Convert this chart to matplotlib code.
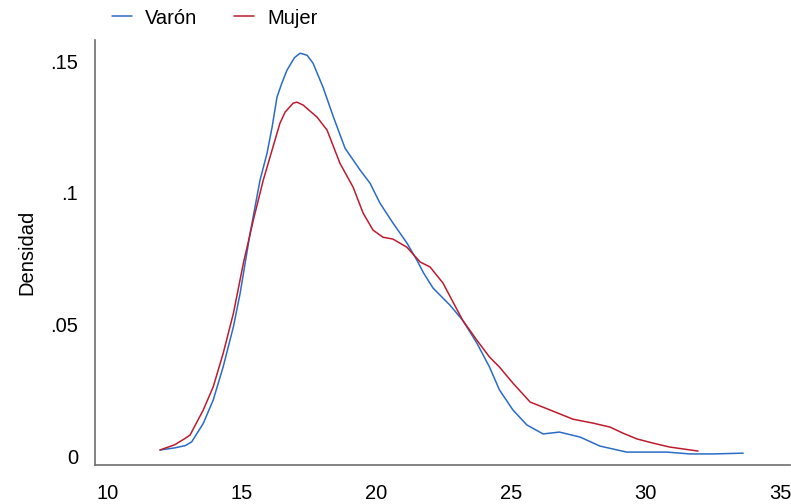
import matplotlib
matplotlib.use("Agg")
import matplotlib.pyplot as plt
from matplotlib.ticker import FixedLocator, FixedFormatter

plt.rcParams['font.family'] = ['Liberation Sans', 'DejaVu Sans']

# Kernel density estimates of age by sex
varon_x = [11.95, 12.5, 12.9, 13.13, 13.56, 13.93, 14.3, 14.68, 14.93, 15.3,
           15.67, 15.93, 16.12, 16.3, 16.48, 16.67, 16.95, 17.16, 17.42, 17.64,
           18.01, 18.4, 18.83, 19.39, 19.76, 20.13, 20.61, 21.13, 21.5, 21.75,
           22.1, 22.73, 23.2, 23.73, 24.2, 24.57, 25.07, 25.59, 26.19, 26.8,
           27.57, 28.3, 29.3, 30.06, 30.8, 31.65, 32.5, 33.63]
varon_y = [0.0023, 0.0031, 0.0040, 0.0054, 0.0124, 0.0213, 0.0339, 0.0491, 0.0618, 0.0846,
           0.1048, 0.1150, 0.1250, 0.1363, 0.1416, 0.1465, 0.1513, 0.1530, 0.1522, 0.1492,
           0.1401, 0.1287, 0.1169, 0.1086, 0.1036, 0.0960, 0.0885, 0.0809, 0.0744, 0.0695,
           0.0638, 0.0573, 0.0516, 0.0429, 0.0338, 0.0251, 0.0175, 0.0118, 0.0084, 0.0091,
           0.0072, 0.0038, 0.0015, 0.0015, 0.0015, 0.0008, 0.0008, 0.0011]

mujer_x = [11.95, 12.5, 12.9, 13.07, 13.56, 13.93, 14.3, 14.68, 15.05, 15.42,
           15.79, 16.04, 16.41, 16.6, 16.9, 17.04, 17.27, 17.79, 18.16, 18.64,
           19.13, 19.5, 19.87, 20.24, 20.61, 21.13, 21.62, 21.99, 22.47, 23.2,
           23.73, 24.2, 24.57, 25.07, 25.71, 26.45, 27.3, 28.05, 28.68, 29.16,
           29.68, 30.28, 30.91, 31.95]
mujer_y = [0.0023, 0.0043, 0.0068, 0.0080, 0.0175, 0.0263, 0.0390, 0.0542, 0.0732, 0.0896,
           0.1048, 0.1135, 0.1264, 0.1306, 0.1340, 0.1344, 0.1333, 0.1287, 0.1238, 0.1112,
           0.1021, 0.0923, 0.0858, 0.0831, 0.0824, 0.0793, 0.0737, 0.0718, 0.0657, 0.0516,
           0.0440, 0.0376, 0.0338, 0.0277, 0.0205, 0.0175, 0.0140, 0.0125, 0.0110, 0.0087,
           0.0065, 0.0049, 0.0034, 0.0019]

x_ticks = [10, 15, 20, 25, 30, 35]
y_ticks = [0, 0.05, 0.1, 0.15]
y_tick_labels = ['0', '.05', '.1', '.15']

blue = '#2a6cc6'
red = '#bd1c2e'
axis_gray = '#6e6e6e'
fs = 14.5

fig = plt.figure(figsize=(7.91, 5.04), dpi=100)
ax = fig.add_axes([95 / 791, 1 - 465 / 504, 695 / 791, 425 / 504])

ax.plot(varon_x, varon_y, color=blue, lw=1.1, label='Varón',
        solid_joinstyle='round', solid_capstyle='round')
ax.plot(mujer_x, mujer_y, color=red, lw=1.1, label='Mujer',
        solid_joinstyle='round', solid_capstyle='round')

ax.set_xlim(9.535, 35.37)
ax.set_ylim(-0.0034, 0.158)

ax.xaxis.set_major_locator(FixedLocator(x_ticks))
ax.yaxis.set_major_locator(FixedLocator(y_ticks))
ax.yaxis.set_major_formatter(FixedFormatter(y_tick_labels))
ax.tick_params(axis='both', length=0, labelsize=fs, colors='black')
ax.tick_params(axis='x', pad=14)
ax.tick_params(axis='y', pad=12)

for side in ('top', 'right'):
    ax.spines[side].set_visible(False)
for side in ('left', 'bottom'):
    ax.spines[side].set_color(axis_gray)
    ax.spines[side].set_linewidth(1.2)

ax.set_ylabel('Densidad', fontsize=fs)
ax.yaxis.set_label_coords((36 - 95) / 695, 0.5)

fig.legend(loc='center left', bbox_to_anchor=(112 / 791, 1 - 18 / 504),
           ncol=2, frameon=False, fontsize=fs, borderpad=0, borderaxespad=0,
           handlelength=1.0, handletextpad=0.65, columnspacing=1.8)

fig.savefig('out.png', dpi=100)
